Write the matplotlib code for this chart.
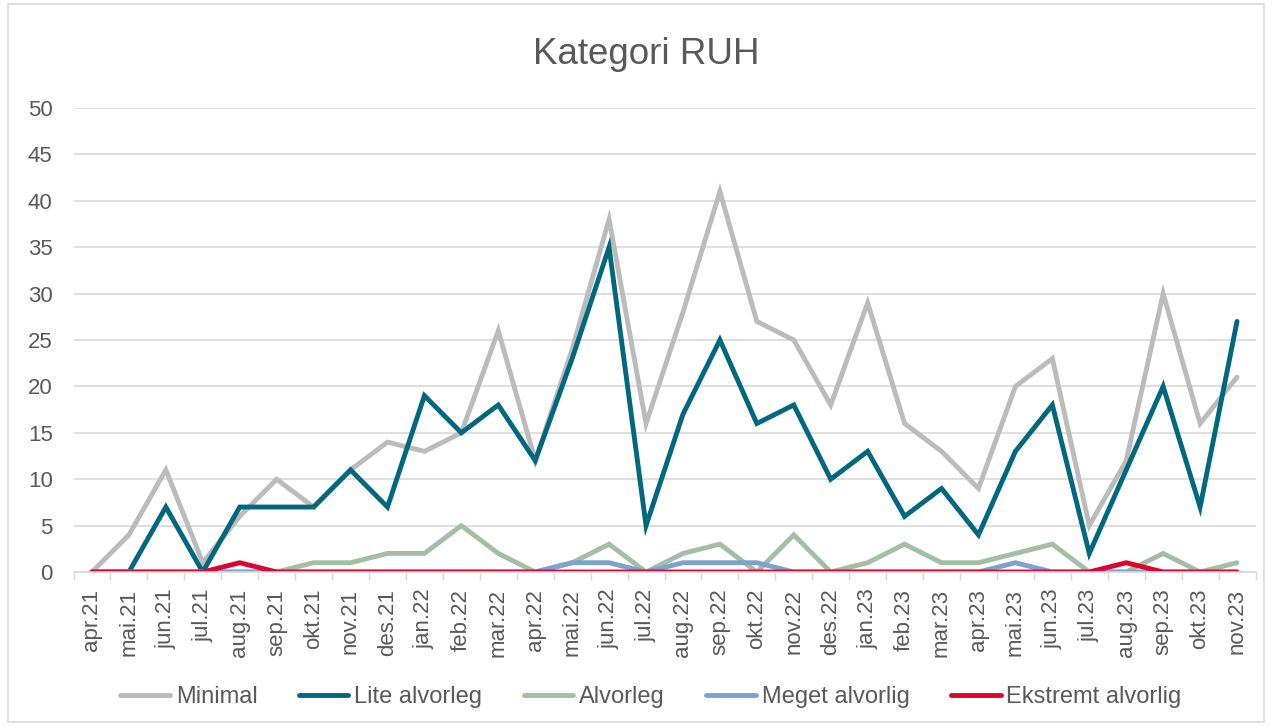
import matplotlib
matplotlib.use("Agg")
import matplotlib.pyplot as plt
from matplotlib.patches import Rectangle
import numpy as np

plt.rcParams['font.family'] = ['Liberation Sans', 'DejaVu Sans']

months = ["apr.21", "mai.21", "jun.21", "jul.21", "aug.21", "sep.21", "okt.21", "nov.21",
          "des.21", "jan.22", "feb.22", "mar.22", "apr.22", "mai.22", "jun.22", "jul.22",
          "aug.22", "sep.22", "okt.22", "nov.22", "des.22", "jan.23", "feb.23", "mar.23",
          "apr.23", "mai.23", "jun.23", "jul.23", "aug.23", "sep.23", "okt.23", "nov.23"]

minimal = [0, 4, 11, 1, 6, 10, 7, 11, 14, 13, 15, 26, 12, 24, 38, 16,
           28, 41, 27, 25, 18, 29, 16, 13, 9, 20, 23, 5, 12, 30, 16, 21]
lite_alvorleg = [0, 0, 7, 0, 7, 7, 7, 11, 7, 19, 15, 18, 12, 23, 35, 5,
                 17, 25, 16, 18, 10, 13, 6, 9, 4, 13, 18, 2, 11, 20, 7, 27]
alvorleg = [0, 0, 0, 0, 0, 0, 1, 1, 2, 2, 5, 2, 0, 1, 3, 0,
            2, 3, 0, 4, 0, 1, 3, 1, 1, 2, 3, 0, 0, 2, 0, 1]
meget_alvorlig = [0, 0, 0, 0, 0, 0, 0, 0, 0, 0, 0, 0, 0, 1, 1, 0,
                  1, 1, 1, 0, 0, 0, 0, 0, 0, 1, 0, 0, 0, 0, 0, 0]
ekstremt_alvorlig = [0, 0, 0, 0, 1, 0, 0, 0, 0, 0, 0, 0, 0, 0, 0, 0,
                     0, 0, 0, 0, 0, 0, 0, 0, 0, 0, 0, 0, 1, 0, 0, 0]

series = [
    ("Minimal", minimal, "#BBBBBB"),
    ("Lite alvorleg", lite_alvorleg, "#00687E"),
    ("Alvorleg", alvorleg, "#A2BFA3"),
    ("Meget alvorlig", meget_alvorlig, "#7DA2CB"),
    ("Ekstremt alvorlig", ekstremt_alvorlig, "#DE0330"),
]

W, H = 1272, 727
fig = plt.figure(figsize=(W / 100, H / 100), dpi=100)
ax = fig.add_axes([73.5 / W, 1 - 572 / H, (1255.5 - 73.5) / W, (572 - 108) / H])

x = np.arange(len(months))
for name, vals, col in series:
    ax.plot(x, vals, color=col, lw=3.5, label=name, solid_joinstyle='miter',
            solid_capstyle='round')

ax.set_xlim(-0.5, len(months) - 0.5)
ax.set_ylim(0, 50)
ax.set_yticks(np.arange(0, 51, 5))
ax.set_xticks(x)
ax.set_xticklabels(months, rotation=90)
ax.set_xticks(np.arange(-0.5, len(months), 1), minor=True)
ax.tick_params(axis='x', which='major', length=0, pad=12, labelsize=16, labelcolor='#595959')
ax.tick_params(axis='x', which='minor', length=6, color='#D9D9D9', width=1)
ax.tick_params(axis='y', length=0, pad=15, labelsize=16, labelcolor='#595959')
ax.grid(axis='y', color='#D9D9D9', lw=1.2)
ax.set_axisbelow(True)
for s in ['top', 'right', 'left']:
    ax.spines[s].set_visible(False)
ax.spines['bottom'].set_color('#D9D9D9')
ax.spines['bottom'].set_linewidth(1.2)

fig.text(646 / W, 1 - 55 / H, "Kategori RUH", ha='center', va='center', fontsize=26.5, color='#595959')

handles, labels = ax.get_legend_handles_labels()
fig.legend(handles, labels, loc='center', bbox_to_anchor=(651 / W, 1 - 697 / H), ncol=5,
           frameon=False, fontsize=17, labelcolor='#595959', handlelength=2.1,
           columnspacing=1.75, handletextpad=0.25)

fig.add_artist(Rectangle((8 / W, 1 - 722 / H), (1264 - 8) / W, (722 - 4) / H,
                         transform=fig.transFigure, fill=False, edgecolor='#D9D9D9', lw=1.2))

fig.savefig("out.png", dpi=100)
